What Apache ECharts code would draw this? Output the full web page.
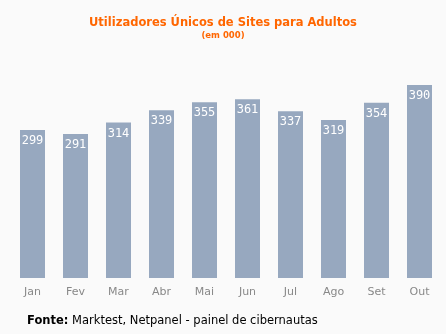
<!DOCTYPE html>
<html><head><meta charset="utf-8">
<script src="https://cdn.jsdelivr.net/npm/echarts@6/dist/echarts.min.js"></script>
<style>html,body{margin:0;padding:0;background:#fafafa;}#c{width:446px;height:334px;}</style>
</head><body><div id="c"></div>
<script>
const categories = ['Jan','Fev','Mar','Abr','Mai','Jun','Jul','Ago','Set','Out'];
const values = [299,291,314,339,355,361,337,319,354,390];
const titleText = 'Utilizadores Únicos de Sites para Adultos';
const subtitleText = '(em 000)';
const chart = echarts.init(document.getElementById('c'));
chart.setOption({
  backgroundColor: '#fafafa',
  animation: false,
  title: [{
    text: titleText, left: 'center', top: 12,
    textStyle: {color: '#ff6600', fontSize: 11.5, fontWeight: 'bold', fontFamily: 'DejaVu Sans'}
  },{
    text: subtitleText, left: 'center', top: 26,
    textStyle: {color: '#ff6600', fontSize: 8.5, fontWeight: 'bold', fontFamily: 'DejaVu Sans'}
  }],
  graphic: [{
    type: 'text', left: 27, top: 315,
    style: {
      text: '{b|Fonte:} Marktest, Netpanel - painel de cibernautas',
      rich: {b: {fontWeight: 'bold', fontSize: 11.5, fontFamily: 'DejaVu Sans', fill: '#000'}},
      fontSize: 11.5, fontFamily: 'DejaVu Sans', fill: '#000'
    }
  }],
  grid: {left: 11, right: 5, top: 80, bottom: 56},
  xAxis: {
    type: 'category', data: categories,
    axisLine: {show: false}, axisTick: {show: false},
    axisLabel: {color: '#888', fontSize: 11, fontFamily: 'DejaVu Sans', margin: 9}
  },
  yAxis: {type: 'value', min: 0, max: 400, show: false, splitLine: {show: false}},
  series: [{
    type: 'bar', data: values, barWidth: 25,
    itemStyle: {color: '#97a8bf'},
    label: {show: true, position: 'insideTop', distance: 5, color: '#fff', fontSize: 12, fontFamily: 'DejaVu Sans Mono'}
  }]
});
</script></body></html>
